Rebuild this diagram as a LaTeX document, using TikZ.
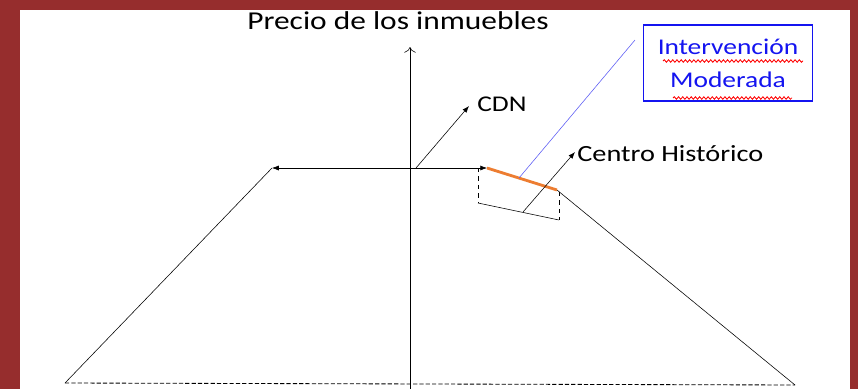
\documentclass[tikz,border=0pt]{standalone}
\usepackage{fontspec}
\setmainfont{Carlito}
\usetikzlibrary{arrows.meta,calc,positioning,decorations.pathmorphing}
\definecolor{photored}{RGB}{150,45,45}
\definecolor{segorange}{RGB}{237,125,49}
\definecolor{notblue}{RGB}{20,20,240}

\begin{document}
\begin{tikzpicture}[>=Latex,x=0.025cm,y=-0.025cm,every node/.style={inner sep=0pt},
  wide/.style={xscale=1.22,transform shape},
  spell/.style={red,line width=0.6pt,decorate,decoration={snake,amplitude=0.9pt,segment length=3pt}}]
\fill[photored] (0,0) rectangle (858,389);
\fill[white] (20,10) rectangle (850,389);
\useasboundingbox (0,0) rectangle (858,389);
% axis and title
\coordinate (o) at (410,389);
\coordinate (top) at (410,47);
\node[wide,font=\fontsize{18.3}{20}\selectfont] (title) at (398,21) {Precio de los inmuebles};
\draw[-{To[length=4pt,width=8pt]}] (o)--(top);
% profile
\coordinate (l) at (272,168);
\coordinate (r) at (487,168);
\coordinate (k) at (557,190);
\coordinate (bl) at (65,383);
\coordinate (br) at (795,385);
\draw[<->] (l)--(r);
\draw (l)--(bl);
\draw (k)--(br);
\draw[line width=0.6pt,dash pattern=on 3pt off 1.5pt] (bl)--(br);
\draw[segorange,line width=2pt] (r)--(k);
% CDN
\coordinate (cdnfoot) at (416,168);
\node[wide,anchor=west,font=\fontsize{16}{18}\selectfont] (cdn) at (477,104) {CDN};
\draw[->] (cdnfoot)--($(cdn.west)+(-8,2)$);
% Centro Historico
\coordinate (d1) at (478,168);
\coordinate (d2) at (478,203);
\coordinate (d3) at (559,192);
\coordinate (d4) at (559,220);
\draw[dashed] (d1)--(d2);
\draw[dashed] (d3)--(d4);
\draw (d2)--(d4);
\coordinate (chfoot) at (523,212);
\node[wide,anchor=west,font=\fontsize{16.5}{18}\selectfont] (ch) at (577,154) {Centro Histórico};
\draw[->] (chfoot)--($(ch.west)+(-2,-2)$);
% note box
\node[wide,draw=notblue,line width=0.8pt,text=notblue,align=center,minimum width=139*0.025cm,minimum height=76*0.025cm,
  font=\fontsize{16}{23.4}\selectfont] (iv) at (728,63) {Intervención\\Moderada};
\coordinate (ivfoot) at (519,178);
\draw[notblue!70] (ivfoot)--(635,40);
\draw[spell] (663,61)--(803,61);
\draw[spell] (673,98)--(792,98);
\end{tikzpicture}
\end{document}
